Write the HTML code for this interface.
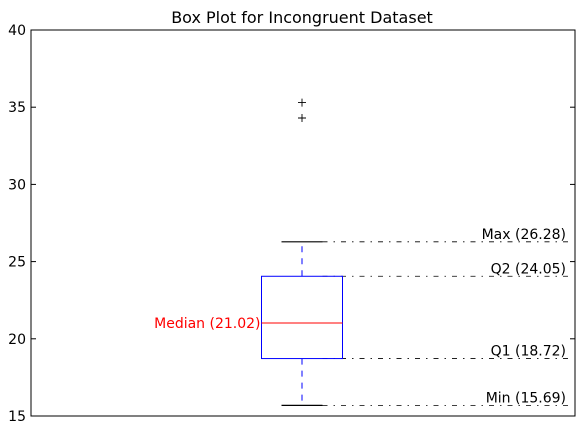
<!DOCTYPE html>
<html><head><meta charset="utf-8"><style>body{margin:0;background:#fff}svg{display:block;font-family:"DejaVu Sans","Liberation Sans",sans-serif}</style></head>
<body>
<svg width="585" height="427" viewBox="0 0 585 427" xmlns="http://www.w3.org/2000/svg">
<g id="g"></g>
</svg>
<script>
const yTicks=[15,20,25,30,35,40];
const stats={min:15.69,q1:18.72,median:21.02,q3:24.05,max:26.28};
const outliers=[35.3,34.3];
const labels=["Min (15.69)","Q1 (18.72)","Median (21.02)","Q2 (24.05)","Max (26.28)"];
const L=31,R=575,T=30,B=416,Y0=15,Y1=40;
const y=v=>B-(v-Y0)/(Y1-Y0)*(B-T);
const cx=302,bw=40.5,cw=20.5;
const g=document.getElementById('g');const NS='http://www.w3.org/2000/svg';
function el(t,a,txt){const e=document.createElementNS(NS,t);for(const k in a)e.setAttribute(k,a[k]);if(txt!=null)e.textContent=txt;g.appendChild(e);return e;}
let e;
e=el('text',{x:302,y:23,'font-size':16,'text-anchor':'middle'},'Box Plot for Incongruent Dataset');

yTicks.forEach(t=>{const yy=y(t);
e=el('line',{x1:L,x2:L+5,y1:yy,y2:yy,stroke:'#000'});
e=el('line',{x1:R-5,x2:R,y1:yy,y2:yy,stroke:'#000'});
e=el('text',{x:L-5,y:yy+5,'font-size':14,'text-anchor':'end'},t);});
[['min',0],['q1',1],['q3',3],['max',4]].forEach(([k,i])=>{const yy=y(stats[k]);
e=el('line',{x1:cx+cw,x2:568,y1:yy,y2:yy,stroke:'#000','stroke-width':0.8,'stroke-dasharray':'5,6,1.5,6'});
e=el('text',{x:566,y:yy-3,'font-size':14,'text-anchor':'end'},labels[i]);});
e=el('line',{x1:cx,x2:cx,y1:y(stats.q3),y2:y(stats.max),stroke:'#00f','stroke-dasharray':'6,6'});
e=el('line',{x1:cx,x2:cx,y1:y(stats.q1),y2:y(stats.min),stroke:'#00f','stroke-dasharray':'6,6'});
e=el('line',{x1:cx-cw,x2:cx+cw,y1:y(stats.max),y2:y(stats.max),stroke:'#000','stroke-width':1.2});
e=el('line',{x1:cx-cw,x2:cx+cw,y1:y(stats.min),y2:y(stats.min),stroke:'#000','stroke-width':1.2});
e=el('rect',{x:cx-bw,y:y(stats.q3),width:2*bw,height:y(stats.q1)-y(stats.q3),fill:'none',stroke:'#00f'});
e=el('line',{x1:cx-bw,x2:cx+bw,y1:y(stats.median),y2:y(stats.median),stroke:'#f00'});
e=el('text',{x:cx-bw-1,y:y(stats.median)+5,'font-size':14,'text-anchor':'end',fill:'#f00'},labels[2]);
outliers.forEach(o=>{const yy=y(o);
e=el('path',{d:`M${cx-4},${yy}H${cx+4}M${cx},${yy-4}V${yy+4}`,stroke:'#000','stroke-width':0.9});});
e=el('rect',{x:L,y:T,width:R-L,height:B-T,fill:'none',stroke:'#000'});
</script>
</body></html>
